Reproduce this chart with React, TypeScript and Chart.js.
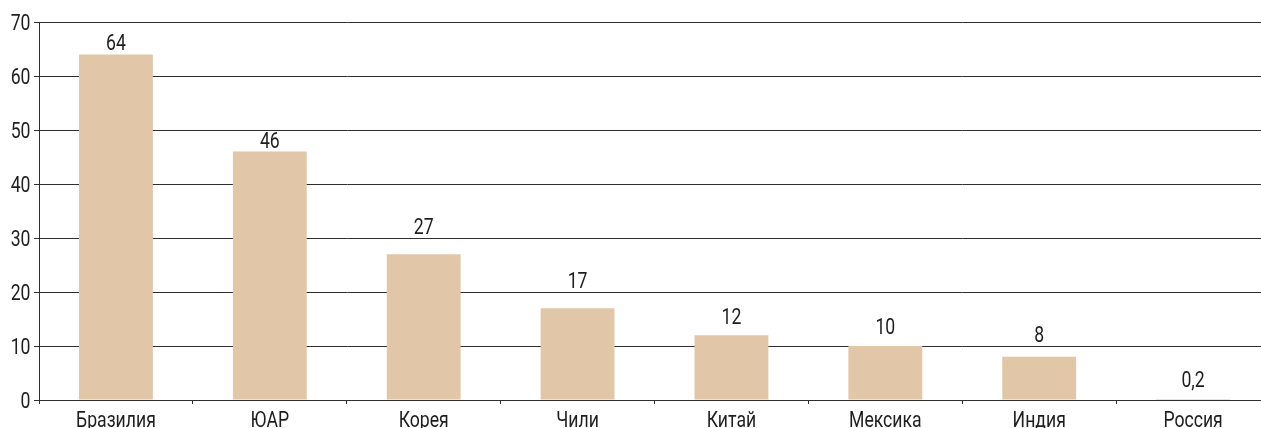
import React, { useEffect, useRef } from "react";
import { Chart, registerables } from "chart.js";

Chart.register(...registerables);

const categories = ["Бразилия", "ЮАР", "Корея", "Чили", "Китай", "Мексика", "Индия", "Россия"];
const values = [64, 46, 27, 17, 12, 10, 8, 0.2];
const valueLabels = ["64", "46", "27", "17", "12", "10", "8", "0,2"];
// vertical anchor (in data units) of each value label's baseline
const labelBase = [64.8, 46.7, 30.7, 20.7, 14.1, 12.2, 10.7, 2.5];
const yTicks = [0, 10, 20, 30, 40, 50, 60, 70];

const FONT = "Roboto, Arial, sans-serif";
const FONT_SIZE = 21.5;
const SQUEEZE = 0.82;
const TEXT_COLOR = "#1e1e1e";

function drawCondensed(ctx: CanvasRenderingContext2D, text: string, x: number, y: number, align: CanvasTextAlign) {
  ctx.save();
  ctx.translate(x, y);
  ctx.scale(SQUEEZE, 1);
  ctx.textAlign = align;
  ctx.textBaseline = "alphabetic";
  ctx.fillText(text, 0, 0);
  ctx.restore();
}

const textPlugin = {
  id: "condensedText",
  afterDraw(chart: any) {
    const ctx: CanvasRenderingContext2D = chart.ctx;
    const meta = chart.getDatasetMeta(0);
    const xScale = chart.scales.x;
    const yScale = chart.scales.y;
    ctx.save();
    ctx.font = `${FONT_SIZE}px ${FONT}`;
    ctx.fillStyle = TEXT_COLOR;
    meta.data.forEach((bar: any, i: number) => {
      drawCondensed(ctx, valueLabels[i], bar.x, yScale.getPixelForValue(labelBase[i]), "center");
    });
    categories.forEach((c, i) => {
      drawCondensed(ctx, c, xScale.getPixelForValue(i), xScale.top + 26.5, "center");
    });
    yTicks.forEach((v) => {
      drawCondensed(ctx, String(v), yScale.right - 8.5, yScale.getPixelForValue(v) + 7.5, "right");
    });
    ctx.restore();
  },
};

export default function App() {
  const ref = useRef<HTMLCanvasElement>(null);
  useEffect(() => {
    if (!ref.current) return;
    const chart = new Chart(ref.current, {
      type: "bar",
      data: {
        labels: categories,
        datasets: [
          {
            data: values,
            backgroundColor: "#E2C6A8",
            barPercentage: 0.96,
            categoryPercentage: 0.5,
          },
        ],
      },
      options: {
        animation: false,
        responsive: false,
        maintainAspectRatio: false,
        layout: { padding: { top: 22, left: 0, right: 0, bottom: 0 } },
        plugins: { legend: { display: false }, tooltip: { enabled: false } },
        scales: {
          x: {
            offset: true,
            afterFit(scale: any) {
              scale.height = 28;
            },
            grid: {
              offset: true,
              drawOnChartArea: false,
              drawTicks: true,
              tickLength: 4,
              color: "#2e2e2e",
              lineWidth: 1,
            },
            border: { display: true, color: "#2e2e2e", width: 1 },
            ticks: { display: false, autoSkip: false },
          },
          y: {
            min: 0,
            max: 70,
            afterFit(scale: any) {
              scale.width = 39;
            },
            afterBuildTicks(scale: any) {
              scale.ticks = yTicks.map((v) => ({ value: v }));
            },
            grid: {
              drawTicks: true,
              tickLength: 5,
              color: "#2e2e2e",
              lineWidth: 1,
            },
            border: { display: true, color: "#2e2e2e", width: 1 },
            ticks: { display: false },
          },
        },
      },
      plugins: [textPlugin],
    });
    return () => chart.destroy();
  }, []);
  return (
    <div style={{ position: "fixed", left: 0, top: 0, width: 1261, height: 428, overflow: "hidden", background: "#fff" }}>
      <canvas ref={ref} width={1270} height={428} style={{ display: "block", width: 1270, height: 428 }} />
    </div>
  );
}
